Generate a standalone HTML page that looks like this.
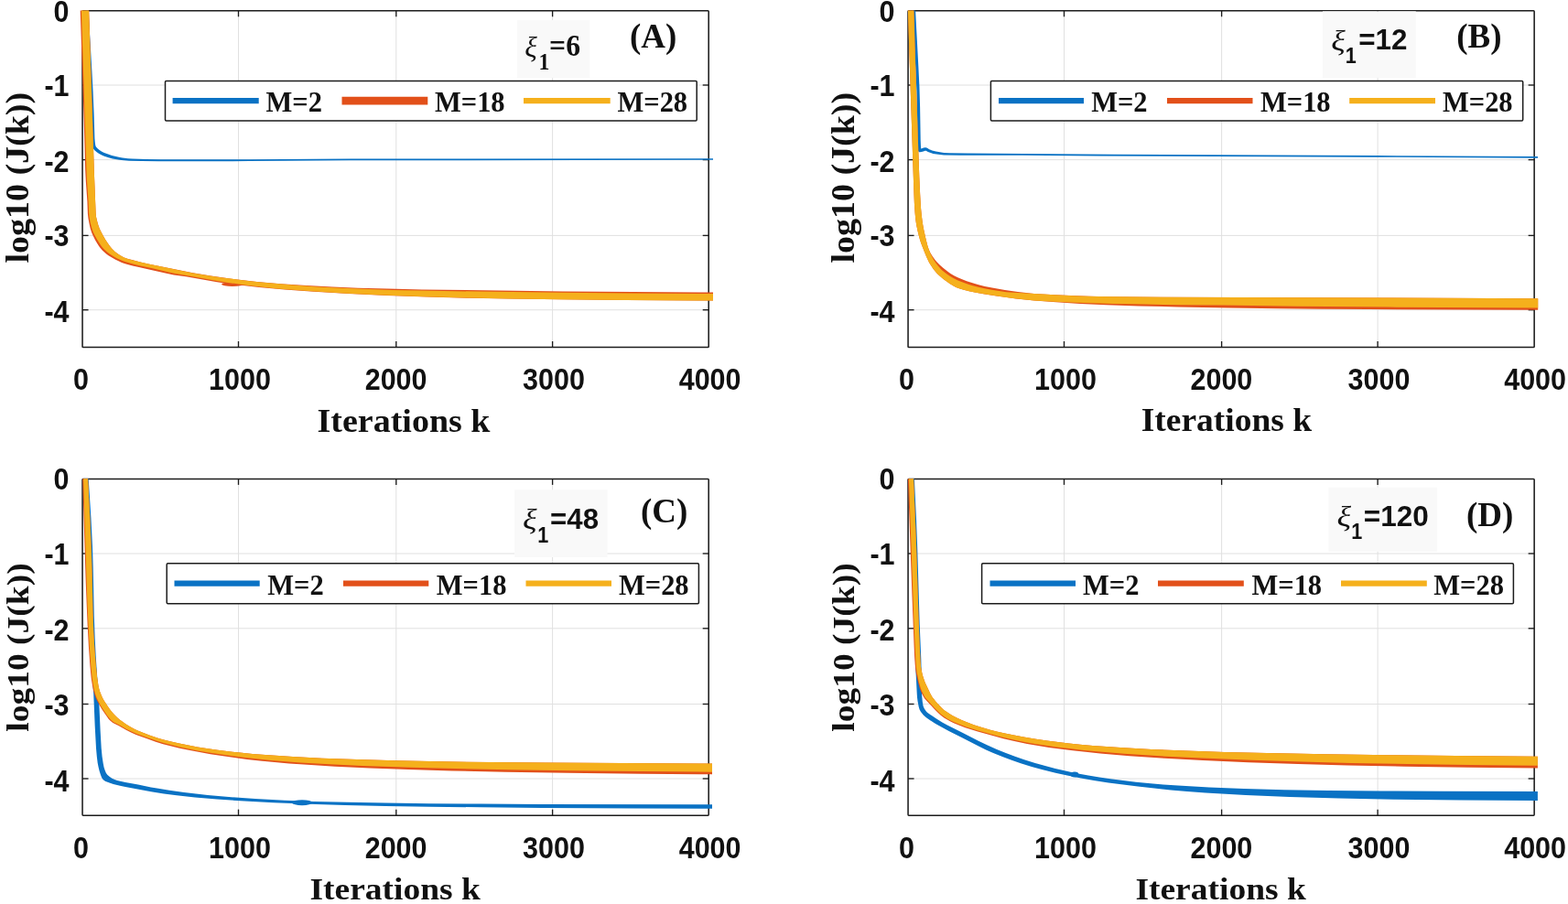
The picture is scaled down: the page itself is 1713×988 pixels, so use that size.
<!DOCTYPE html>
<html lang="en">
<head>
<meta charset="utf-8">
<title>Convergence of log10 (J(k)) versus iterations k</title>
<style>
html,body{margin:0;padding:0;background:#fff;}
body{width:1713px;height:988px;overflow:hidden;}
svg{display:block;}
text{white-space:pre;fill:#111;}
</style>
</head>
<body>
<svg width="1713" height="988" viewBox="0 0 1713 988">
<rect x="0" y="0" width="1713" height="988" fill="#fff"/>
<g id="panel-a">
<line x1="260.5" y1="11.75" x2="260.5" y2="379.5" stroke="#e0e0e0" stroke-width="1"/>
<line x1="432.8" y1="11.75" x2="432.8" y2="379.5" stroke="#e0e0e0" stroke-width="1"/>
<line x1="603.6" y1="11.75" x2="603.6" y2="379.5" stroke="#e0e0e0" stroke-width="1"/>
<line x1="90.05" y1="93" x2="774.2" y2="93" stroke="#e0e0e0" stroke-width="1"/>
<line x1="90.05" y1="174.6" x2="774.2" y2="174.6" stroke="#e0e0e0" stroke-width="1"/>
<line x1="90.05" y1="257.4" x2="774.2" y2="257.4" stroke="#e0e0e0" stroke-width="1"/>
<line x1="90.05" y1="338.7" x2="774.2" y2="338.7" stroke="#e0e0e0" stroke-width="1"/>
<rect x="90.05" y="11.75" width="684.15" height="367.75" rx="0.8" fill="none" stroke="#1c1c1c" stroke-width="1.55"/>
<line x1="260.5" y1="379.5" x2="260.5" y2="373" stroke="#1c1c1c" stroke-width="1.35"/>
<line x1="260.5" y1="11.75" x2="260.5" y2="18.25" stroke="#1c1c1c" stroke-width="1.35"/>
<line x1="432.8" y1="379.5" x2="432.8" y2="373" stroke="#1c1c1c" stroke-width="1.35"/>
<line x1="432.8" y1="11.75" x2="432.8" y2="18.25" stroke="#1c1c1c" stroke-width="1.35"/>
<line x1="603.6" y1="379.5" x2="603.6" y2="373" stroke="#1c1c1c" stroke-width="1.35"/>
<line x1="603.6" y1="11.75" x2="603.6" y2="18.25" stroke="#1c1c1c" stroke-width="1.35"/>
<line x1="90.05" y1="93" x2="96.55" y2="93" stroke="#1c1c1c" stroke-width="1.35"/>
<line x1="774.2" y1="93" x2="767.7" y2="93" stroke="#1c1c1c" stroke-width="1.35"/>
<line x1="90.05" y1="174.6" x2="96.55" y2="174.6" stroke="#1c1c1c" stroke-width="1.35"/>
<line x1="774.2" y1="174.6" x2="767.7" y2="174.6" stroke="#1c1c1c" stroke-width="1.35"/>
<line x1="90.05" y1="257.4" x2="96.55" y2="257.4" stroke="#1c1c1c" stroke-width="1.35"/>
<line x1="774.2" y1="257.4" x2="767.7" y2="257.4" stroke="#1c1c1c" stroke-width="1.35"/>
<line x1="90.05" y1="338.7" x2="96.55" y2="338.7" stroke="#1c1c1c" stroke-width="1.35"/>
<line x1="774.2" y1="338.7" x2="767.7" y2="338.7" stroke="#1c1c1c" stroke-width="1.35"/>
<rect x="565" y="22" width="79.2" height="63.3" fill="#f9f9f9"/>
<path d="M96.5 11.5L100.4 77.6L101.6 100.1L102.6 124.2L103.4 151.3L103.8 155.8L104.3 159.1L104.9 160.5L106.8 162.6L109 164.3L111.3 165.7L113.9 167L118.1 168.6L122.3 170L126.6 171.1L131 172L133.9 172.4L139.8 173.2L144.3 173.6L159.3 174.1L175.8 174.3L272.1 174.3L384 173.6L779 173.2L779 174.8L381.9 175.3L272.1 176.1L172.8 176.3L154.7 176.1L141.1 175.8L135.1 175.3L130.5 174.8L127.5 174.3L123 173.4L118.6 172.2L114 170.8L111.1 169.6L108.3 168.1L105.7 166.3L103.1 163.9L102 162.4L101.2 160.9L100.9 159.9L100.5 154.6L99.6 124.3L98.5 98.8L93.5 11.7Z" fill="#0a72c4"/>
<ellipse cx="254" cy="310.6" rx="12" ry="2.3" fill="#e2501a"/>
<path d="M97.2 11.6L100.5 112.2L102.8 187.3L104.6 232.4L105 236.9L106.8 244.2L107.7 247.1L108.8 249.9L110.8 254L112.9 258L115.2 261.9L117.7 265.7L120.4 269.4L122.3 271.7L125.5 274.9L127.9 276.8L130.3 278.5L132.9 280L135.6 281.4L139.9 282.9L144.3 284.1L154.5 286.7L163.3 288.7L210.9 298.2L228.9 301.2L241 303L255 304.9L281 307.9L307 310.2L335 312.1L363 313.6L391 314.7L423 315.6L461 316.4L527 317.3L615 318.4L691 319L779 319.6L779 328.5L685 327.9L613 327.3L557 326.6L513 325.8L467 324.6L423 323L381 321L343 318.8L311 316.4L283 313.9L259 311.3L247 309.7L237 308.2L203.1 302.3L189.9 300.4L184 299.2L165 294.9L151.8 292.1L145.9 290.7L140.1 289.2L135.9 287.9L133 286.9L128.9 285.1L126.2 283.8L122.3 281.6L118.5 279.2L116.1 277.4L113.9 275.5L111.7 273.4L108.8 270L107.1 267.5L104.1 262.4L101.4 257L100.2 254.2L98.8 250L98.1 247.1L97.2 242.7L96.4 238.3L95.9 233.8L95.4 220.3L93.9 199.3L93.2 185.8L91.7 131.7L87.7 11.6Z" fill="#e2501a"/>
<path d="M97.1 11.6L100.5 112.2L102.8 187.3L104.6 232.4L105 236.9L106.7 244.2L107.6 247.1L108.7 249.9L110.7 254L112.9 258L115.2 261.9L117.7 265.7L120.3 269.5L122.2 271.8L125.5 275L127.8 276.9L130.3 278.6L132.9 280.1L135.6 281.4L139.9 283L144.3 284.2L154.5 286.8L163.3 288.8L210.9 298.4L230.9 301.7L243 303.4L259 305.5L273 307.2L285 308.4L317 311.3L347 313.4L373 314.8L403 316.1L429 317L459 317.6L523 318.6L613 319.7L689 320.4L779 321.1L779 328.5L683 327.9L611 327.2L557 326.5L511 325.6L463 324.2L417 322.5L375 320.5L337 318.1L303 315.5L285 313.6L271 311.9L259 310.3L249 308.9L237 306.9L203.6 300.9L190.3 298.8L184.4 297.6L165.4 293.1L152.2 290.3L146.3 288.8L136.7 286L133.9 285L129.8 283.3L127.5 282.2L123.6 280L120.1 277.8L117.7 276L115.7 274.3L113.5 272.2L111.5 269.9L109.7 267.5L108.1 265L105.9 261.4L103 256.2L101.7 253.5L100.3 249.5L99.5 246.6L98.5 242.5L97.5 236.6L97.1 232.3L96.6 220.3L94.9 196.3L94.4 184.3L92.8 131.7L88.9 11.6Z" fill="#f5b01c"/>
<rect x="180.5" y="88.4" width="580.7" height="43.5" rx="1.2" fill="#fff" stroke="#1c1c1c" stroke-width="1.5"/>
<line x1="188.6" y1="110.15" x2="282.7" y2="110.15" stroke="#0a72c4" stroke-width="6.2"/>
<text transform="translate(290.5 121.65) scale(1 1.06)" font-family='"Liberation Serif", serif' font-weight="bold" font-size="30.5">M=2</text>
<line x1="373.5" y1="110.15" x2="467.3" y2="110.15" stroke="#e2501a" stroke-width="8.6"/>
<text transform="translate(475 121.65) scale(1 1.06)" font-family='"Liberation Serif", serif' font-weight="bold" font-size="30.5">M=18</text>
<line x1="572" y1="110.15" x2="666.7" y2="110.15" stroke="#f5b01c" stroke-width="6.2"/>
<text transform="translate(674.5 121.65) scale(1 1.06)" font-family='"Liberation Serif", serif' font-weight="bold" font-size="30.5">M=28</text>
<text transform="translate(88.4 426.3) scale(1 1.08)" text-anchor="middle" font-family='"Liberation Sans", sans-serif' font-weight="bold" font-size="30.5">0</text>
<text transform="translate(262 426.3) scale(1 1.08)" text-anchor="middle" font-family='"Liberation Sans", sans-serif' font-weight="bold" font-size="30.5">1000</text>
<text transform="translate(432.6 426.3) scale(1 1.08)" text-anchor="middle" font-family='"Liberation Sans", sans-serif' font-weight="bold" font-size="30.5">2000</text>
<text transform="translate(605 426.3) scale(1 1.08)" text-anchor="middle" font-family='"Liberation Sans", sans-serif' font-weight="bold" font-size="30.5">3000</text>
<text transform="translate(775.6 426.3) scale(1 1.08)" text-anchor="middle" font-family='"Liberation Sans", sans-serif' font-weight="bold" font-size="30.5">4000</text>
<text transform="translate(75.55 23.6) scale(1 1.08)" text-anchor="end" font-family='"Liberation Sans", sans-serif' font-weight="bold" font-size="30.5">0</text>
<text transform="translate(75.55 105) scale(1 1.08)" text-anchor="end" font-family='"Liberation Sans", sans-serif' font-weight="bold" font-size="30.5">-1</text>
<text transform="translate(75.55 188.1) scale(1 1.08)" text-anchor="end" font-family='"Liberation Sans", sans-serif' font-weight="bold" font-size="30.5">-2</text>
<text transform="translate(75.55 269.4) scale(1 1.08)" text-anchor="end" font-family='"Liberation Sans", sans-serif' font-weight="bold" font-size="30.5">-3</text>
<text transform="translate(75.55 352.2) scale(1 1.08)" text-anchor="end" font-family='"Liberation Sans", sans-serif' font-weight="bold" font-size="30.5">-4</text>
<text transform="translate(441 472) scale(1 0.92)" text-anchor="middle" font-family='"Liberation Serif", serif' font-weight="bold" font-size="38">Iterations k</text>
<text transform="translate(31 194.2) rotate(-90) scale(1 0.92)" text-anchor="middle" font-family='"Liberation Serif", serif' font-weight="bold" font-size="38">log10 (J(k))</text>
<text transform="translate(688 52)" font-family='"Liberation Serif", serif' font-weight="bold" font-size="37">(A)</text>
<text transform="translate(573.15 61.77) scale(1 1.011)" font-family='"Liberation Serif", serif' font-weight="normal" font-style="italic" font-size="31.5">ξ</text>
<text transform="translate(588.5 76.3) scale(1 1.045)" font-family='"Liberation Serif", serif' font-weight="bold" font-size="23.78">1</text>
<text transform="translate(600.11 60.85) scale(1 1.031)" font-family='"Liberation Serif", serif' font-weight="bold" font-size="31.72">=6</text>
</g>
<g id="panel-b">
<line x1="1162.5" y1="11.75" x2="1162.5" y2="379.5" stroke="#e0e0e0" stroke-width="1"/>
<line x1="1334.6" y1="11.75" x2="1334.6" y2="379.5" stroke="#e0e0e0" stroke-width="1"/>
<line x1="1505.1" y1="11.75" x2="1505.1" y2="379.5" stroke="#e0e0e0" stroke-width="1"/>
<line x1="992.05" y1="93" x2="1676.15" y2="93" stroke="#e0e0e0" stroke-width="1"/>
<line x1="992.05" y1="174.6" x2="1676.15" y2="174.6" stroke="#e0e0e0" stroke-width="1"/>
<line x1="992.05" y1="257.4" x2="1676.15" y2="257.4" stroke="#e0e0e0" stroke-width="1"/>
<line x1="992.05" y1="338.7" x2="1676.15" y2="338.7" stroke="#e0e0e0" stroke-width="1"/>
<rect x="992.05" y="11.75" width="684.1" height="367.75" rx="0.8" fill="none" stroke="#1c1c1c" stroke-width="1.55"/>
<line x1="1162.5" y1="379.5" x2="1162.5" y2="373" stroke="#1c1c1c" stroke-width="1.35"/>
<line x1="1162.5" y1="11.75" x2="1162.5" y2="18.25" stroke="#1c1c1c" stroke-width="1.35"/>
<line x1="1334.6" y1="379.5" x2="1334.6" y2="373" stroke="#1c1c1c" stroke-width="1.35"/>
<line x1="1334.6" y1="11.75" x2="1334.6" y2="18.25" stroke="#1c1c1c" stroke-width="1.35"/>
<line x1="1505.1" y1="379.5" x2="1505.1" y2="373" stroke="#1c1c1c" stroke-width="1.35"/>
<line x1="1505.1" y1="11.75" x2="1505.1" y2="18.25" stroke="#1c1c1c" stroke-width="1.35"/>
<line x1="992.05" y1="93" x2="998.55" y2="93" stroke="#1c1c1c" stroke-width="1.35"/>
<line x1="1676.15" y1="93" x2="1669.65" y2="93" stroke="#1c1c1c" stroke-width="1.35"/>
<line x1="992.05" y1="174.6" x2="998.55" y2="174.6" stroke="#1c1c1c" stroke-width="1.35"/>
<line x1="1676.15" y1="174.6" x2="1669.65" y2="174.6" stroke="#1c1c1c" stroke-width="1.35"/>
<line x1="992.05" y1="257.4" x2="998.55" y2="257.4" stroke="#1c1c1c" stroke-width="1.35"/>
<line x1="1676.15" y1="257.4" x2="1669.65" y2="257.4" stroke="#1c1c1c" stroke-width="1.35"/>
<line x1="992.05" y1="338.7" x2="998.55" y2="338.7" stroke="#1c1c1c" stroke-width="1.35"/>
<line x1="1676.15" y1="338.7" x2="1669.65" y2="338.7" stroke="#1c1c1c" stroke-width="1.35"/>
<rect x="1445" y="12.3" width="101.8" height="73" fill="#f9f9f9"/>
<path d="M1000.1 11.5L1003.3 71.7L1004.4 94.2L1005.1 116.8L1005.7 153.4L1006 161L1006.2 163.9L1005.2 162.8L1004.5 162.7L1007.1 162.2L1009 161.6L1010.5 161.2L1011.4 161.3L1013 161.8L1015.2 163.2L1018.3 164.4L1022.5 165.5L1028.3 166.6L1031.3 166.9L1037.2 167.2L1056.8 167.6L1118.5 167.9L1183.2 168.6L1217.9 168.8L1505.4 170.1L1680 171.1L1680 172.7L1496.3 171.7L1201.3 170.5L1117 169.8L1049.2 169.7L1031.1 169.4L1025 168.8L1019.4 167.9L1017.4 167.3L1013.8 166L1011.6 164.8L1010.4 164.5L1011.3 164.6L1010.1 164.9L1007.9 165.8L1005.1 166.3L1004 166.2L1002.8 164.8L1002.5 162.7L1002 121.4L1001.4 98.9L1000.2 73.3L996.9 11.7Z" fill="#0a72c4"/>
<path d="M998.4 11.6L1000.2 71.7L1003.3 164.9L1004.3 193.4L1005.2 213L1006.1 228L1007 237L1008 244.5L1009.1 250.4L1011 259.2L1013.2 268L1014.1 270.9L1015.2 273.7L1016.5 276.4L1018.8 280.3L1021.5 283.9L1023.4 286.3L1026.6 289.5L1030 292.5L1034.7 296.3L1038.4 298.9L1042.2 301.3L1046.3 303.3L1050.5 305.1L1056.1 307.2L1063.3 309.6L1069.1 311.2L1075.9 312.9L1083.9 314.6L1097.9 317.1L1112 319.1L1130 320.9L1148 322.1L1170 323.1L1190 323.8L1212 324.2L1268 324.8L1434 325.2L1680.2 326.3L1680.2 338.8L1496 338.1L1442 337.7L1396 337.2L1342 336.5L1286 335.4L1244 334.4L1208 333.2L1180 331.9L1154 330.3L1130 328.4L1110 326.4L1100.1 325.1L1090.1 323.7L1074.1 321.2L1066.1 319.8L1058.7 318.3L1052.9 316.8L1048.6 315.5L1044.4 313.9L1041.7 312.6L1037.9 310.2L1030.6 304.9L1027.1 302.1L1023.8 299L1021.9 296.8L1020 294.4L1017.5 290.7L1015.1 286.9L1012.5 281.6L1010.2 276L1006.4 266.3L1005 262L1003.8 257.6L1002.4 251.8L1001.2 245.9L1000.3 239.9L999.6 232.5L998.9 222L998.3 207L991.9 11.6Z" fill="#e2501a"/>
<path d="M998.4 11.6L1000.2 71.7L1003.3 164.9L1004.3 193.4L1005.2 213L1006.1 228L1007 237L1008 244.5L1009.1 250.4L1011 259.2L1012.4 265.1L1013.6 269.5L1015.1 273.7L1016.2 276.5L1018.2 280.6L1020.4 284.4L1022.2 287.2L1025 290.7L1028.2 294.4L1029.3 295.4L1034.4 299.4L1038.1 301.9L1042 304.2L1046.5 306.4L1052.4 308.8L1058.5 311L1062.8 312.3L1068.6 313.8L1075.4 315.2L1083.4 316.7L1091.5 318.1L1099.5 319.2L1112 320.1L1130 320.9L1140 321.6L1152 322.3L1178 323.4L1198 323.9L1220 324.3L1272 324.8L1434 325.2L1680.2 326.3L1680.2 336.4L1516 335.6L1418 334.8L1336 333.6L1288 333.2L1250 332.6L1216 331.9L1176 330.8L1152 329.7L1130 328.4L1116 327.1L1104.1 325.7L1078.1 321.8L1064.6 319.5L1058.7 318.3L1052.9 316.8L1048.6 315.5L1044.4 313.9L1041.7 312.6L1037.9 310.2L1030.6 304.9L1027.1 302.1L1023.8 299L1021.9 296.8L1020 294.4L1017.5 290.7L1015.1 286.9L1012.5 281.6L1010.2 276L1006.4 266.3L1005 262L1003.8 257.6L1002.4 251.8L1001.2 245.9L1000.3 239.9L999.6 232.5L998.9 222L998.3 207L991.9 11.6Z" fill="#f5b01c"/>
<rect x="1082.4" y="88.4" width="581.3" height="43.5" rx="1.2" fill="#fff" stroke="#1c1c1c" stroke-width="1.5"/>
<line x1="1091" y1="110.15" x2="1184" y2="110.15" stroke="#0a72c4" stroke-width="6.2"/>
<text transform="translate(1192.2 122.35) scale(1 1.06)" font-family='"Liberation Serif", serif' font-weight="bold" font-size="30.5">M=2</text>
<line x1="1275" y1="110.15" x2="1368.5" y2="110.15" stroke="#e2501a" stroke-width="6.2"/>
<text transform="translate(1377 122.35) scale(1 1.06)" font-family='"Liberation Serif", serif' font-weight="bold" font-size="30.5">M=18</text>
<line x1="1474.2" y1="110.15" x2="1568" y2="110.15" stroke="#f5b01c" stroke-width="6.2"/>
<text transform="translate(1576 122.35) scale(1 1.06)" font-family='"Liberation Serif", serif' font-weight="bold" font-size="30.5">M=28</text>
<text transform="translate(990.4 426.3) scale(1 1.08)" text-anchor="middle" font-family='"Liberation Sans", sans-serif' font-weight="bold" font-size="30.5">0</text>
<text transform="translate(1164 426.3) scale(1 1.08)" text-anchor="middle" font-family='"Liberation Sans", sans-serif' font-weight="bold" font-size="30.5">1000</text>
<text transform="translate(1334.4 426.3) scale(1 1.08)" text-anchor="middle" font-family='"Liberation Sans", sans-serif' font-weight="bold" font-size="30.5">2000</text>
<text transform="translate(1506.5 426.3) scale(1 1.08)" text-anchor="middle" font-family='"Liberation Sans", sans-serif' font-weight="bold" font-size="30.5">3000</text>
<text transform="translate(1677.1 426.3) scale(1 1.08)" text-anchor="middle" font-family='"Liberation Sans", sans-serif' font-weight="bold" font-size="30.5">4000</text>
<text transform="translate(977.55 23.6) scale(1 1.08)" text-anchor="end" font-family='"Liberation Sans", sans-serif' font-weight="bold" font-size="30.5">0</text>
<text transform="translate(977.55 105) scale(1 1.08)" text-anchor="end" font-family='"Liberation Sans", sans-serif' font-weight="bold" font-size="30.5">-1</text>
<text transform="translate(977.55 188.1) scale(1 1.08)" text-anchor="end" font-family='"Liberation Sans", sans-serif' font-weight="bold" font-size="30.5">-2</text>
<text transform="translate(977.55 269.4) scale(1 1.08)" text-anchor="end" font-family='"Liberation Sans", sans-serif' font-weight="bold" font-size="30.5">-3</text>
<text transform="translate(977.55 352.2) scale(1 1.08)" text-anchor="end" font-family='"Liberation Sans", sans-serif' font-weight="bold" font-size="30.5">-4</text>
<text transform="translate(1339.9 470.8) scale(1 0.93)" text-anchor="middle" font-family='"Liberation Serif", serif' font-weight="bold" font-size="37.5">Iterations k</text>
<text transform="translate(933 194.2) rotate(-90) scale(1 0.92)" text-anchor="middle" font-family='"Liberation Serif", serif' font-weight="bold" font-size="38">log10 (J(k))</text>
<text transform="translate(1591.2 52)" font-family='"Liberation Serif", serif' font-weight="bold" font-size="37">(B)</text>
<text transform="translate(1454.32 55.49) scale(1 0.881)" font-family='"Liberation Serif", serif' font-weight="normal" font-style="italic" font-size="36">ξ</text>
<text transform="translate(1469.73 69.4) scale(1 1.1)" font-family='"Liberation Sans", sans-serif' font-weight="bold" font-size="21.6">1</text>
<text transform="translate(1484.25 54.3)" font-family='"Liberation Sans", sans-serif' font-weight="bold" font-size="31.36">=12</text>
</g>
<g id="panel-c">
<line x1="260.5" y1="523.4" x2="260.5" y2="891.15" stroke="#e0e0e0" stroke-width="1"/>
<line x1="432.8" y1="523.4" x2="432.8" y2="891.15" stroke="#e0e0e0" stroke-width="1"/>
<line x1="603.6" y1="523.4" x2="603.6" y2="891.15" stroke="#e0e0e0" stroke-width="1"/>
<line x1="90.05" y1="605" x2="774.2" y2="605" stroke="#e0e0e0" stroke-width="1"/>
<line x1="90.05" y1="686.8" x2="774.2" y2="686.8" stroke="#e0e0e0" stroke-width="1"/>
<line x1="90.05" y1="769.5" x2="774.2" y2="769.5" stroke="#e0e0e0" stroke-width="1"/>
<line x1="90.05" y1="851" x2="774.2" y2="851" stroke="#e0e0e0" stroke-width="1"/>
<rect x="90.05" y="523.4" width="684.15" height="367.75" rx="0.8" fill="none" stroke="#1c1c1c" stroke-width="1.55"/>
<line x1="260.5" y1="891.15" x2="260.5" y2="884.65" stroke="#1c1c1c" stroke-width="1.35"/>
<line x1="260.5" y1="523.4" x2="260.5" y2="529.9" stroke="#1c1c1c" stroke-width="1.35"/>
<line x1="432.8" y1="891.15" x2="432.8" y2="884.65" stroke="#1c1c1c" stroke-width="1.35"/>
<line x1="432.8" y1="523.4" x2="432.8" y2="529.9" stroke="#1c1c1c" stroke-width="1.35"/>
<line x1="603.6" y1="891.15" x2="603.6" y2="884.65" stroke="#1c1c1c" stroke-width="1.35"/>
<line x1="603.6" y1="523.4" x2="603.6" y2="529.9" stroke="#1c1c1c" stroke-width="1.35"/>
<line x1="90.05" y1="605" x2="96.55" y2="605" stroke="#1c1c1c" stroke-width="1.35"/>
<line x1="774.2" y1="605" x2="767.7" y2="605" stroke="#1c1c1c" stroke-width="1.35"/>
<line x1="90.05" y1="686.8" x2="96.55" y2="686.8" stroke="#1c1c1c" stroke-width="1.35"/>
<line x1="774.2" y1="686.8" x2="767.7" y2="686.8" stroke="#1c1c1c" stroke-width="1.35"/>
<line x1="90.05" y1="769.5" x2="96.55" y2="769.5" stroke="#1c1c1c" stroke-width="1.35"/>
<line x1="774.2" y1="769.5" x2="767.7" y2="769.5" stroke="#1c1c1c" stroke-width="1.35"/>
<line x1="90.05" y1="851" x2="96.55" y2="851" stroke="#1c1c1c" stroke-width="1.35"/>
<line x1="774.2" y1="851" x2="767.7" y2="851" stroke="#1c1c1c" stroke-width="1.35"/>
<rect x="562" y="535.3" width="101.6" height="73.7" fill="#f9f9f9"/>
<path d="M96.7 523.3L99.4 565.3L101 596.9L101.7 619.5L102.8 673.6L103.7 697.7L104.7 717.2L105.9 735.2L106.4 742.7L107.5 753.2L107.9 759.2L109.6 798.3L110.7 817.8L111.6 826.9L112.7 834.3L113.6 838.7L114.5 841.6L115.7 844.4L116.5 845.7L117.5 846.9L118.7 848.1L119.9 849.1L122.4 850.7L125.2 851.9L128 852.9L132.4 854L136.9 855L150.9 857.5L165 860.4L173 861.8L185 863.7L201 865.9L227 868.9L253 871.3L279 873.1L311 874.7L343 875.9L379 876.8L421 877.6L469 878.2L525 878.6L591 878.9L778 879.2L778 883.8L691 883.4L593 882.9L525 882.3L469 881.7L421 880.9L377 879.9L337 878.7L299 877.2L267 875.6L237 873.6L213 871.5L193 869.3L179 867.4L165.1 865.2L137 860L131.1 858.7L123.8 856.9L119.5 855.6L115.4 854L114.1 853.2L112.9 852.3L112 851.2L111.2 849.9L110.1 847.2L108.7 842.9L107.6 838.6L106.7 834.1L105.8 826.7L105 817.8L103.7 793.7L102.2 757.7L100.9 741.2L99 715.7L97.9 699.2L97.2 685.6L96.4 664.6L94.4 606L91.3 523.3Z" fill="#0a72c4"/>
<ellipse cx="330" cy="877.2" rx="11" ry="3" fill="#0a72c4"/>
<path d="M96.1 523.3L98.3 565.3L99.9 602.9L100.5 622.4L101.5 669L102.3 691.6L103.5 711.1L105 729L106.2 741L106.9 745.5L107.6 750L108.3 752.9L109.1 755.8L110.8 760.1L112 762.8L113.5 765.4L117.6 771.8L120.2 775.5L123 779L126.1 782.3L128.4 784.4L130.7 786.4L134.2 789.1L138 791.7L141.8 794L145.8 796.2L149.9 798.2L156.8 801.1L163.9 803.7L171.9 806.4L177.9 808.2L185.9 810.3L195.9 812.6L205.9 814.6L215.9 816.4L225.9 818L238 819.8L250 821.2L262 822.6L276 823.9L290 825L320 827.1L352 828.7L390 830.1L432 831.3L482 832.3L536 833L596 833.5L778 834.5L778 846.3L700 845.7L620 844.7L552 843.7L494 842.5L446 841.1L404 839.6L366 837.7L332 835.6L316 834.4L300 833L284 831.4L270 829.9L256 828.1L242 826.1L230 824.2L218 822.1L206.1 819.8L196.1 817.7L186.1 815.3L178.1 813.3L170.1 810.8L159.9 807.1L148.6 802.9L143.1 800.6L137.7 797.8L129.9 793.3L123.3 789.9L120.9 788.1L118.8 785.9L116.2 782.3L111.9 776.1L109.6 772.3L106 765.7L104.7 763L103.2 758.8L102 754.4L101.1 750L99.7 741.2L98.4 727.7L96.9 706.7L95.7 684.2L94.8 663.1L93.8 637.6L90.2 523.3Z" fill="#e2501a"/>
<path d="M96.1 523.3L98.3 565.3L99.9 602.9L100.5 622.4L101.5 669L102.3 691.6L103.5 711.1L105 729L106.2 741L106.9 745.5L107.6 750L108.3 752.9L109.1 755.8L110.8 760.1L112 762.8L113.5 765.4L117.6 771.8L120.2 775.5L123 779L126.1 782.3L128.4 784.4L130.7 786.4L134.2 789.1L138 791.7L141.8 794L145.8 796.2L149.9 798.2L156.8 801.1L163.9 803.7L171.9 806.4L177.9 808.2L185.9 810.3L195.9 812.6L205.9 814.6L215.9 816.4L225.9 818L238 819.8L250 821.2L262 822.6L276 823.9L290 825L320 827.1L352 828.7L390 830.1L432 831.3L482 832.3L536 833L596 833.5L778 834.5L778 843.7L700 843.1L624 842.3L556 841.3L498 840.1L450 838.8L396 837L360 835.3L328 833.4L312 832.2L296 830.9L282 829.5L268 828L254 826.3L240 824.3L228 822.4L216 820.4L196.6 816.4L186.6 814.1L178.6 812.1L170.6 809.6L160.4 806.1L149.2 802L143.7 799.6L138.3 796.9L130.5 792.4L126.6 790.6L124 789.2L121.6 787.3L119.5 785.1L116.9 781.7L112.7 775.5L110.3 771.7L106.8 765.3L105.5 762.6L104.1 758.6L102.9 754.2L102 749.8L100.7 741.2L99.3 727.7L97.8 706.7L96.6 684.2L95.6 663.1L94.7 637.6L91.1 523.3Z" fill="#f5b01c"/>
<rect x="182.2" y="615.7" width="581.2" height="44" rx="1.2" fill="#fff" stroke="#1c1c1c" stroke-width="1.5"/>
<line x1="190.5" y1="637.7" x2="283.7" y2="637.7" stroke="#0a72c4" stroke-width="6.2"/>
<text transform="translate(292.3 650.4) scale(1 1.06)" font-family='"Liberation Serif", serif' font-weight="bold" font-size="30.5">M=2</text>
<line x1="375" y1="637.7" x2="468.3" y2="637.7" stroke="#e2501a" stroke-width="6.2"/>
<text transform="translate(476.8 650.4) scale(1 1.06)" font-family='"Liberation Serif", serif' font-weight="bold" font-size="30.5">M=18</text>
<line x1="574.5" y1="637.7" x2="668" y2="637.7" stroke="#f5b01c" stroke-width="6.2"/>
<text transform="translate(676 650.4) scale(1 1.06)" font-family='"Liberation Serif", serif' font-weight="bold" font-size="30.5">M=28</text>
<text transform="translate(88.4 937.95) scale(1 1.08)" text-anchor="middle" font-family='"Liberation Sans", sans-serif' font-weight="bold" font-size="30.5">0</text>
<text transform="translate(262 937.95) scale(1 1.08)" text-anchor="middle" font-family='"Liberation Sans", sans-serif' font-weight="bold" font-size="30.5">1000</text>
<text transform="translate(432.6 937.95) scale(1 1.08)" text-anchor="middle" font-family='"Liberation Sans", sans-serif' font-weight="bold" font-size="30.5">2000</text>
<text transform="translate(605 937.95) scale(1 1.08)" text-anchor="middle" font-family='"Liberation Sans", sans-serif' font-weight="bold" font-size="30.5">3000</text>
<text transform="translate(775.6 937.95) scale(1 1.08)" text-anchor="middle" font-family='"Liberation Sans", sans-serif' font-weight="bold" font-size="30.5">4000</text>
<text transform="translate(75.55 535.25) scale(1 1.08)" text-anchor="end" font-family='"Liberation Sans", sans-serif' font-weight="bold" font-size="30.5">0</text>
<text transform="translate(75.55 617) scale(1 1.08)" text-anchor="end" font-family='"Liberation Sans", sans-serif' font-weight="bold" font-size="30.5">-1</text>
<text transform="translate(75.55 700.3) scale(1 1.08)" text-anchor="end" font-family='"Liberation Sans", sans-serif' font-weight="bold" font-size="30.5">-2</text>
<text transform="translate(75.55 781.5) scale(1 1.08)" text-anchor="end" font-family='"Liberation Sans", sans-serif' font-weight="bold" font-size="30.5">-3</text>
<text transform="translate(75.55 864.5) scale(1 1.08)" text-anchor="end" font-family='"Liberation Sans", sans-serif' font-weight="bold" font-size="30.5">-4</text>
<text transform="translate(431.7 982.5) scale(1 0.875)" text-anchor="middle" font-family='"Liberation Serif", serif' font-weight="bold" font-size="37.5">Iterations k</text>
<text transform="translate(31 707.5) rotate(-90) scale(1 0.92)" text-anchor="middle" font-family='"Liberation Serif", serif' font-weight="bold" font-size="37.5">log10 (J(k))</text>
<text transform="translate(700 571)" font-family='"Liberation Serif", serif' font-weight="bold" font-size="37">(C)</text>
<text transform="translate(571.11 578.07) scale(1 0.878)" font-family='"Liberation Serif", serif' font-weight="normal" font-style="italic" font-size="36.25">ξ</text>
<text transform="translate(587.23 592.5) scale(1 1.1)" font-family='"Liberation Sans", sans-serif' font-weight="bold" font-size="21.6">1</text>
<text transform="translate(601.05 577.78) scale(1 1.019)" font-family='"Liberation Sans", sans-serif' font-weight="bold" font-size="31.23">=48</text>
</g>
<g id="panel-d">
<line x1="1162.5" y1="523.4" x2="1162.5" y2="891.15" stroke="#e0e0e0" stroke-width="1"/>
<line x1="1334.6" y1="523.4" x2="1334.6" y2="891.15" stroke="#e0e0e0" stroke-width="1"/>
<line x1="1505.1" y1="523.4" x2="1505.1" y2="891.15" stroke="#e0e0e0" stroke-width="1"/>
<line x1="992.05" y1="605" x2="1676.15" y2="605" stroke="#e0e0e0" stroke-width="1"/>
<line x1="992.05" y1="686.8" x2="1676.15" y2="686.8" stroke="#e0e0e0" stroke-width="1"/>
<line x1="992.05" y1="769.5" x2="1676.15" y2="769.5" stroke="#e0e0e0" stroke-width="1"/>
<line x1="992.05" y1="851" x2="1676.15" y2="851" stroke="#e0e0e0" stroke-width="1"/>
<rect x="992.05" y="523.4" width="684.1" height="367.75" rx="0.8" fill="none" stroke="#1c1c1c" stroke-width="1.55"/>
<line x1="1162.5" y1="891.15" x2="1162.5" y2="884.65" stroke="#1c1c1c" stroke-width="1.35"/>
<line x1="1162.5" y1="523.4" x2="1162.5" y2="529.9" stroke="#1c1c1c" stroke-width="1.35"/>
<line x1="1334.6" y1="891.15" x2="1334.6" y2="884.65" stroke="#1c1c1c" stroke-width="1.35"/>
<line x1="1334.6" y1="523.4" x2="1334.6" y2="529.9" stroke="#1c1c1c" stroke-width="1.35"/>
<line x1="1505.1" y1="891.15" x2="1505.1" y2="884.65" stroke="#1c1c1c" stroke-width="1.35"/>
<line x1="1505.1" y1="523.4" x2="1505.1" y2="529.9" stroke="#1c1c1c" stroke-width="1.35"/>
<line x1="992.05" y1="605" x2="998.55" y2="605" stroke="#1c1c1c" stroke-width="1.35"/>
<line x1="1676.15" y1="605" x2="1669.65" y2="605" stroke="#1c1c1c" stroke-width="1.35"/>
<line x1="992.05" y1="686.8" x2="998.55" y2="686.8" stroke="#1c1c1c" stroke-width="1.35"/>
<line x1="1676.15" y1="686.8" x2="1669.65" y2="686.8" stroke="#1c1c1c" stroke-width="1.35"/>
<line x1="992.05" y1="769.5" x2="998.55" y2="769.5" stroke="#1c1c1c" stroke-width="1.35"/>
<line x1="1676.15" y1="769.5" x2="1669.65" y2="769.5" stroke="#1c1c1c" stroke-width="1.35"/>
<line x1="992.05" y1="851" x2="998.55" y2="851" stroke="#1c1c1c" stroke-width="1.35"/>
<line x1="1676.15" y1="851" x2="1669.65" y2="851" stroke="#1c1c1c" stroke-width="1.35"/>
<rect x="1451.3" y="532.6" width="118.6" height="70.3" fill="#f9f9f9"/>
<path d="M998.9 523.3L1001 566.9L1002.3 601.4L1004.7 682.6L1006.3 720.2L1007.2 760.8L1007.8 766.9L1008.5 771.3L1009 772.7L1009.7 774.2L1011.3 776.8L1012.3 777.9L1013.4 778.9L1015.9 780.7L1023.4 785.8L1029.8 789.7L1034.9 792.4L1050.9 800.4L1068.9 809.8L1078.9 814.6L1088.9 819.1L1098.9 823.1L1108.9 826.8L1118.9 830.2L1130.9 834L1140.9 836.8L1152.9 839.9L1162.9 842.3L1175 844.9L1189 847.5L1201 849.5L1213 851.3L1227 853.1L1241 854.7L1257 856.3L1271 857.4L1287 858.6L1321 860.5L1359 862L1403 863.2L1451 864L1509 864.5L1573 864.8L1679.9 865L1679.9 875.1L1597 874.6L1523 873.7L1463 872.6L1409 871L1385 870.1L1361 869L1339 867.8L1317 866.4L1297 864.9L1279 863.4L1261 861.6L1243 859.6L1227 857.6L1211 855.4L1195 852.9L1181 850.5L1167.1 847.7L1153.1 844.7L1139.1 841.2L1127.1 837.9L1115.1 834.2L1105.1 830.8L1095.1 827L1085.1 822.9L1077.1 819.4L1069.1 815.5L1051.1 806.2L1037.1 799.2L1023.4 791.8L1020.8 790.3L1013.3 785.2L1011 783.5L1008.8 781.5L1007.8 780.3L1006 778L1004.6 775.4L1003.7 772.6L1002.6 766.7L1002 762.3L1001.8 759.3L1000.1 726.2L997 636L992.8 523.3Z" fill="#0a72c4"/>
<ellipse cx="1174" cy="846.5" rx="4.5" ry="3" fill="#0a72c4"/>
<path d="M998.1 523.3L1001.1 597L1003.5 673.7L1004.7 705.3L1005.6 723.3L1006.1 729.3L1006.6 732.3L1008 738.2L1009.9 743.9L1011 746.7L1016.2 757.7L1018.4 761.7L1020.2 764.1L1022.1 766.4L1028.1 773.1L1030.3 775.2L1032.7 777.1L1036.5 779.6L1040.4 781.9L1045.8 784.7L1051.2 787.2L1056.8 789.6L1063.9 792.3L1071.9 794.8L1081.9 797.7L1089.9 799.7L1097.9 801.6L1107.9 803.6L1119.9 805.8L1131.9 807.8L1143.9 809.6L1155.9 811.1L1168 812.5L1180 813.7L1194 814.9L1224 817L1258 818.9L1296 820.5L1338 821.9L1384 823L1448 824.2L1518 825.2L1590 826L1679.9 826.7L1679.9 839.5L1604 838.7L1534 837.7L1472 836.5L1418 835.1L1364 833.3L1314 831.1L1272 828.8L1234 826.2L1202 823.4L1186 821.8L1172 820.2L1158 818.5L1146 816.9L1134.1 815L1122.1 812.9L1108.1 810.1L1096.1 807.3L1088.1 805.1L1068.1 799.5L1060.1 797.1L1054.5 795.2L1047.5 792.6L1041.9 790.2L1037.9 788.2L1034 786L1031.4 784.4L1027.8 781.7L1024.5 778.8L1021.3 775.6L1012.2 765.7L1010.2 763.4L1009.4 762.2L1007.2 758.2L1006 755.5L1004.9 752.7L1002.9 745.4L1001 736.7L1000.3 732.2L999.7 726.3L999.1 717.3L998.5 703.7L996.5 652.6L991.9 523.3Z" fill="#e2501a"/>
<path d="M998.1 523.3L1001.1 597L1003.5 673.7L1004.7 705.3L1005.6 723.3L1006.1 729.3L1006.6 732.3L1008 738.2L1009.9 743.9L1011 746.7L1016.2 757.7L1018.4 761.7L1020.2 764.1L1022.1 766.4L1028.1 773.1L1030.3 775.2L1032.7 777.1L1036.5 779.6L1040.4 781.9L1045.8 784.7L1051.2 787.2L1056.8 789.6L1063.9 792.3L1071.9 794.8L1081.9 797.7L1089.9 799.7L1097.9 801.6L1107.9 803.6L1119.9 805.8L1131.9 807.8L1143.9 809.6L1155.9 811.1L1168 812.5L1180 813.7L1194 814.9L1224 817L1258 818.9L1296 820.5L1338 821.9L1384 823L1448 824.2L1518 825.2L1590 826L1679.9 826.7L1679.9 836.7L1606 836L1538 835.1L1476 833.9L1422 832.6L1368 830.8L1302 828.1L1264 826.1L1228 823.8L1198 821.3L1182 819.7L1168 818.1L1154 816.4L1142.5 814.8L1130.5 812.9L1120.5 811.2L1108.5 808.8L1096.5 806L1088.5 803.9L1068.5 798.4L1060.4 796L1054.9 794.2L1047.9 791.6L1042.3 789.2L1038.5 787.4L1034.5 785.2L1032 783.6L1028.4 780.9L1025.2 778.1L1021 773.8L1013 765.1L1011.1 762.8L1010.3 761.8L1008.2 757.8L1006.9 755.1L1005.8 752.3L1003.8 745L1001.7 735L1000.9 729.3L1000.3 720.3L998.5 681.2L997.1 642.1L992.9 523.3Z" fill="#f5b01c"/>
<rect x="1072.6" y="615.7" width="580.8" height="44" rx="1.2" fill="#fff" stroke="#1c1c1c" stroke-width="1.5"/>
<line x1="1081.5" y1="637.7" x2="1175" y2="637.7" stroke="#0a72c4" stroke-width="6.2"/>
<text transform="translate(1183 650.4) scale(1 1.06)" font-family='"Liberation Serif", serif' font-weight="bold" font-size="30.5">M=2</text>
<line x1="1265" y1="637.7" x2="1358.8" y2="637.7" stroke="#e2501a" stroke-width="6.2"/>
<text transform="translate(1367.5 650.4) scale(1 1.06)" font-family='"Liberation Serif", serif' font-weight="bold" font-size="30.5">M=18</text>
<line x1="1465" y1="637.7" x2="1558.8" y2="637.7" stroke="#f5b01c" stroke-width="6.2"/>
<text transform="translate(1566.3 650.4) scale(1 1.06)" font-family='"Liberation Serif", serif' font-weight="bold" font-size="30.5">M=28</text>
<text transform="translate(990.4 937.95) scale(1 1.08)" text-anchor="middle" font-family='"Liberation Sans", sans-serif' font-weight="bold" font-size="30.5">0</text>
<text transform="translate(1164 937.95) scale(1 1.08)" text-anchor="middle" font-family='"Liberation Sans", sans-serif' font-weight="bold" font-size="30.5">1000</text>
<text transform="translate(1334.4 937.95) scale(1 1.08)" text-anchor="middle" font-family='"Liberation Sans", sans-serif' font-weight="bold" font-size="30.5">2000</text>
<text transform="translate(1506.5 937.95) scale(1 1.08)" text-anchor="middle" font-family='"Liberation Sans", sans-serif' font-weight="bold" font-size="30.5">3000</text>
<text transform="translate(1677.1 937.95) scale(1 1.08)" text-anchor="middle" font-family='"Liberation Sans", sans-serif' font-weight="bold" font-size="30.5">4000</text>
<text transform="translate(977.55 535.25) scale(1 1.08)" text-anchor="end" font-family='"Liberation Sans", sans-serif' font-weight="bold" font-size="30.5">0</text>
<text transform="translate(977.55 617) scale(1 1.08)" text-anchor="end" font-family='"Liberation Sans", sans-serif' font-weight="bold" font-size="30.5">-1</text>
<text transform="translate(977.55 700.3) scale(1 1.08)" text-anchor="end" font-family='"Liberation Sans", sans-serif' font-weight="bold" font-size="30.5">-2</text>
<text transform="translate(977.55 781.5) scale(1 1.08)" text-anchor="end" font-family='"Liberation Sans", sans-serif' font-weight="bold" font-size="30.5">-3</text>
<text transform="translate(977.55 864.5) scale(1 1.08)" text-anchor="end" font-family='"Liberation Sans", sans-serif' font-weight="bold" font-size="30.5">-4</text>
<text transform="translate(1333.6 982.6) scale(1 0.875)" text-anchor="middle" font-family='"Liberation Serif", serif' font-weight="bold" font-size="37.5">Iterations k</text>
<text transform="translate(933 707.5) rotate(-90) scale(1 0.92)" text-anchor="middle" font-family='"Liberation Serif", serif' font-weight="bold" font-size="37.5">log10 (J(k))</text>
<text transform="translate(1602 574.8)" font-family='"Liberation Serif", serif' font-weight="bold" font-size="37">(D)</text>
<text transform="translate(1460.51 575.37) scale(1 0.894)" font-family='"Liberation Serif", serif' font-weight="normal" font-style="italic" font-size="36.25">ξ</text>
<text transform="translate(1476.33 589.4) scale(1 1.1)" font-family='"Liberation Sans", sans-serif' font-weight="bold" font-size="21.6">1</text>
<text transform="translate(1489.84 574.68) scale(1 1.013)" font-family='"Liberation Sans", sans-serif' font-weight="bold" font-size="31.57">=120</text>
</g>
</svg>
</body>
</html>
